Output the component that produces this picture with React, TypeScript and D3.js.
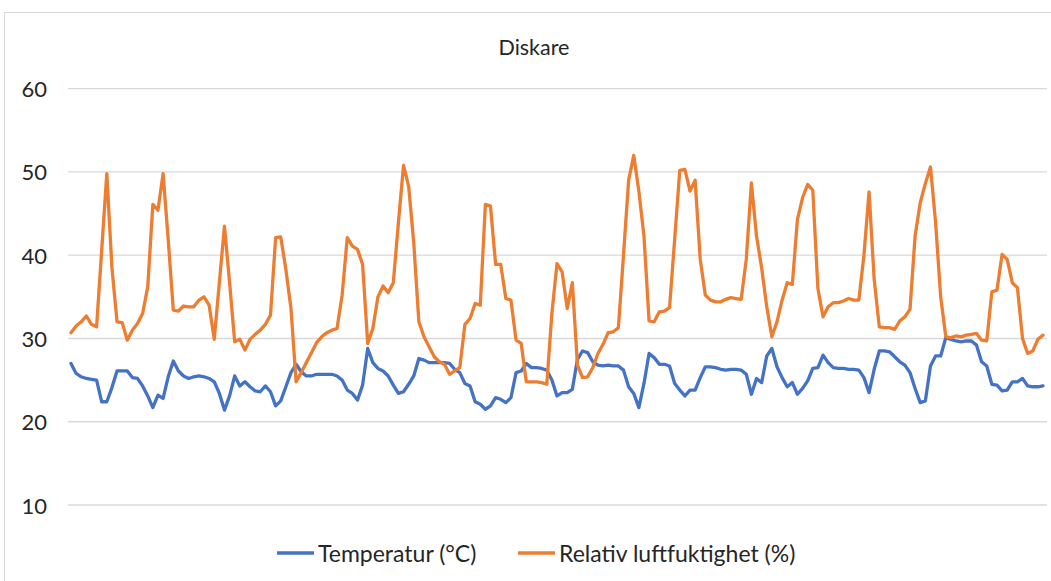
import React from 'react';
import * as d3 from 'd3';

const title = 'Diskare';
const seriesNames = ['Temperatur (°C)', 'Relativ luftfuktighet (%)'];
const seriesColors = ['#4472C4', '#ED7D31'];
const yTicks = [10, 20, 30, 40, 50, 60];

// Temperatur (°C), one value per reading
const temperature = [
  27.0, 25.8, 25.4, 25.2, 25.1, 25.0, 22.4, 22.4, 24.1, 26.1, 26.1, 26.1, 25.3, 25.2, 24.3, 23.1, 21.7, 23.2, 22.8, 25.4, 27.3, 26.1, 25.5, 25.2,
  25.4, 25.5, 25.4, 25.2, 24.8, 23.4, 21.4, 23.1, 25.5, 24.3, 24.8, 24.2, 23.7, 23.6, 24.3, 23.6, 21.9, 22.5, 24.2, 25.9, 26.9, 26.0, 25.5, 25.5,
  25.7, 25.7, 25.7, 25.7, 25.5, 25.0, 23.8, 23.4, 22.6, 24.4, 28.8, 27.1, 26.4, 26.1, 25.5, 24.4, 23.4, 23.6, 24.5, 25.5, 27.6, 27.4, 27.1, 27.1, 27.1,
  27.1, 27.0, 26.3, 25.9, 24.6, 24.3, 22.4, 22.1, 21.5, 21.9, 22.9, 22.7, 22.3, 22.9, 25.9, 26.1, 27.0, 26.5, 26.5, 26.4, 26.2, 25.0, 23.1, 23.5,
  23.5, 23.9, 27.5, 28.5, 28.3, 27.2, 26.8, 26.7, 26.8, 26.7, 26.7, 26.2, 24.2, 23.4, 21.7, 24.6, 28.2, 27.7, 26.9, 26.9, 26.7, 24.6, 23.8, 23.1, 23.8,
  23.8, 25.3, 26.6, 26.6, 26.5, 26.3, 26.2, 26.3, 26.3, 26.2, 25.7, 23.3, 25.2, 24.7, 27.9, 28.8, 26.6, 25.3, 24.2, 24.7, 23.3, 24.0, 24.9, 26.4,
  26.5, 28.0, 27.1, 26.5, 26.4, 26.4, 26.3, 26.3, 26.2, 25.3, 23.5, 26.3, 28.5, 28.5, 28.4, 27.8, 27.2, 26.8, 25.9, 24.0, 22.3, 22.5, 26.7, 27.9,
  27.9, 30.1, 29.9, 29.7, 29.6, 29.7, 29.7, 29.2, 27.2, 26.7, 24.5, 24.4, 23.7, 23.8, 24.8, 24.8, 25.2, 24.3, 24.2, 24.2, 24.3,
];

// Relativ luftfuktighet (%)
const humidity = [
  30.7, 31.5, 32.0, 32.7, 31.7, 31.4, 40.6, 49.8, 38.5, 32.0, 31.9, 29.8, 31.0, 31.8, 33.0, 36.2, 46.1, 45.4, 49.8, 41.9, 33.4, 33.3, 33.9, 33.8,
  33.8, 34.6, 35.0, 34.0, 29.9, 36.7, 43.5, 36.7, 29.6, 29.9, 28.6, 29.9, 30.5, 31.0, 31.7, 32.8, 42.1, 42.2, 38.3, 33.6, 24.8, 25.9, 27.1, 28.3,
  29.5, 30.2, 30.7, 31.0, 31.2, 35.2, 42.1, 41.1, 40.7, 38.9, 29.4, 31.2, 35.0, 36.3, 35.5, 36.7, 43.9, 50.8, 48.3, 41.5, 32.0, 30.2, 29.0, 27.8, 27.2,
  26.9, 25.7, 26.1, 26.5, 31.7, 32.4, 34.2, 34.0, 46.1, 45.9, 38.9, 38.9, 34.8, 34.6, 29.8, 29.4, 24.8, 24.8, 24.8, 24.7, 24.5, 33.0, 39.0, 38.0,
  33.6, 36.7, 26.8, 25.3, 25.4, 26.5, 28.2, 29.3, 30.7, 30.8, 31.3, 40.0, 49.0, 52.0, 47.7, 42.3, 32.1, 32.0, 33.2, 33.3, 33.7, 41.9, 50.2, 50.3, 47.7,
  49.0, 39.5, 35.2, 34.6, 34.4, 34.4, 34.7, 34.9, 34.8, 34.7, 39.5, 48.7, 42.3, 38.5, 33.8, 30.2, 32.0, 34.6, 36.7, 36.5, 44.3, 46.9, 48.5, 47.8,
  36.0, 32.6, 33.8, 34.3, 34.3, 34.5, 34.8, 34.6, 34.6, 40.0, 47.6, 37.1, 31.4, 31.3, 31.3, 31.1, 32.1, 32.6, 33.5, 42.3, 46.3, 48.6, 50.6, 44.0,
  35.0, 30.2, 30.1, 30.3, 30.2, 30.4, 30.5, 30.6, 29.8, 29.7, 35.6, 35.8, 40.1, 39.5, 36.7, 36.1, 30.0, 28.2, 28.5, 29.9, 30.4,
];

const W = 1051;
const H = 581;
const font = 'Lato, "Open Sans", sans-serif';
const textColor = '#262626';

export default function App() {
  const n = temperature.length;
  const x = d3.scaleLinear().domain([0, n - 1]).range([71, 1043]);
  const y = d3.scaleLinear().domain([10, 60]).range([505, 88.7]);

  const line = d3
    .line<number>()
    .x((_, i) => x(i))
    .y((d) => y(d));

  const series = [temperature, humidity];
  // legend swatch start for each series
  const legendX = [277, 518];

  return (
    <svg
      width={W}
      height={H}
      style={{ position: 'absolute', left: 0, top: 0, background: '#fff' }}
      fontFamily={font}
    >
      <rect x={4.5} y={12.5} width={1100} height={700} fill="#fff" stroke="#d9d9d9" strokeWidth={1} />
      <text x={534} y={47} textAnchor="middle" dominantBaseline="central" fontSize={21.5} fill={textColor}>
        {title}
      </text>
      {yTicks.map((t) => (
        <g key={t}>
          <line x1={68} x2={1047} y1={y(t)} y2={y(t)} stroke="#d9d9d9" strokeWidth={1.3} />
          <text x={47} y={y(t)} textAnchor="end" dominantBaseline="central" fontSize={22} fill={textColor}>
            {t}
          </text>
        </g>
      ))}
      {series.map((s, k) => (
        <path
          key={k}
          d={line(s) || ''}
          fill="none"
          stroke={seriesColors[k]}
          strokeWidth={3.3}
          strokeLinejoin="round"
          strokeLinecap="round"
        />
      ))}
      {seriesNames.map((name, k) => (
        <g key={name}>
          <line x1={legendX[k]} x2={legendX[k] + 37} y1={553} y2={553} stroke={seriesColors[k]} strokeWidth={3.5} />
          <text x={legendX[k] + 41} y={553} dominantBaseline="central" fontSize={23} fill={textColor}>
            {name}
          </text>
        </g>
      ))}
    </svg>
  );
}
